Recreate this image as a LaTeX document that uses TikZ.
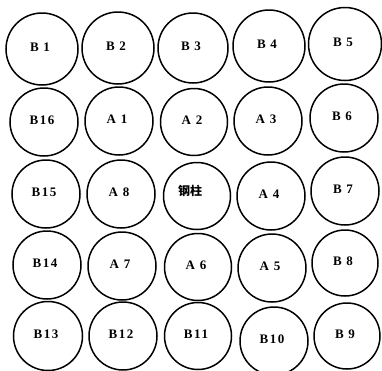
\documentclass[tikz,border=0pt]{standalone}
\usepackage{fontspec}
\setmainfont{Liberation Serif}
\newfontfamily\cjk{Noto Sans CJK SC}[BoldFont={* Black}]
\tikzset{
  well/.style={circle,draw=black,line width=1.5pt,inner sep=0pt},
  wlabel/.style={font=\fontsize{13}{15}\selectfont\bfseries\addfontfeature{LetterSpace=12}},
}
\begin{document}
\begin{tikzpicture}[x=1pt,y=-1pt]
\useasboundingbox (0,0) rectangle (382,370);
\foreach \n/\x/\y/\s/\t in {
  b1/42/49/72/{B 1}, b2/118/48/72/{B 2}, b3/193/48/70/{B 3}, b4/269/46/72/{B 4}, b5/345/44/73/{B 5},
  b16/44/122/68/{B16}, a1/119/121/68/{A 1}, a2/194/122/67/{A 2}, a3/268/121/68/{A 3}, b6/344/118/68/{B 6},
  b15/46/194/68/{B15}, a8/121/194/68/{A 8}, a4/271/196/68/{A 4}, b7/345/191/68/{B 7},
  b14/47/265/68/{B14}, a7/122/266/68/{A 7}, a6/198/267/67/{A 6}, a5/272/268/68/{A 5}, b8/345/263/66/{B 8},
  b13/48/336/69/{B13}, b12/123/336/68/{B12}, b11/198/336/67/{B11}, b10/274/341/68/{B10}, b9/347/336/66/{B 9}}
{
  \node[well,minimum size=\s pt] (\n) at (\x,\y) {};
  \node[wlabel] (\n t) at ([xshift=-2pt,yshift=2pt]\n.center) {\t};
}
\node[well,minimum size=67pt] (col) at (197,196) {};
\node[font=\cjk\bfseries\fontsize{12}{14}\selectfont] (colt) at ([xshift=-7pt,yshift=5pt]col.center) {钢柱};
\end{tikzpicture}
\end{document}
